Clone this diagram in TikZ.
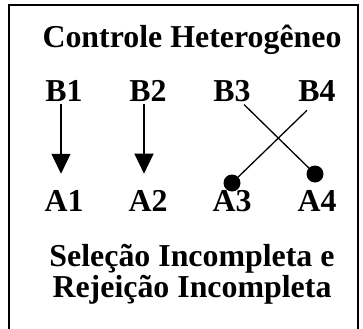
\documentclass[tikz,border=0pt]{standalone}
\usepackage{fontspec}
\setmainfont{Liberation Serif}
\usetikzlibrary{arrows.meta}
\begin{document}
\begin{tikzpicture}[x=1bp,y=-1bp,
  lbl/.style={font=\bfseries\fontsize{32}{36}\selectfont, inner sep=0pt, anchor=base},
  ttl/.style={font=\bfseries\fontsize{32}{36}\selectfont, inner sep=0pt, anchor=base},
  conn/.style={line width=1.3bp},
  arr/.style={conn, -{Triangle[width=19bp,length=20bp]}},
  dotn/.style={circle, fill=black, inner sep=0pt, minimum size=17bp}]
\useasboundingbox (0,0) rectangle (363,329);
\draw[line width=1.5bp] (9,329) -- (9,5) -- (358,5) -- (358,329);
\node[ttl] (title) at (192,47) {Controle Heterogêneo};
\node[lbl] (b1) at (64,101) {B1};
\node[lbl] (b2) at (148,101) {B2};
\node[lbl] (b3) at (232,101) {B3};
\node[lbl] (b4) at (317,101) {B4};
\node[lbl] (a1) at (64,211) {A1};
\node[lbl] (a2) at (148,211) {A2};
\node[lbl] (a3) at (232,211) {A3};
\node[lbl] (a4) at (317,211) {A4};
\node[dotn] (d3) at (232,183) {};
\node[dotn] (d4) at (315,174) {};
\draw[arr] ([xshift=-3bp,yshift=-3bp]b1.south) -- ([xshift=-3bp,yshift=16bp]a1.north);
\draw[arr] ([xshift=-4bp,yshift=-3bp]b2.south) -- ([xshift=-4bp,yshift=16bp]a2.north);
\draw[conn] ([xshift=12bp,yshift=-3bp]b3.south) -- (d4.center);
\draw[conn] ([xshift=-10bp,yshift=-9bp]b4.south) -- (d3.center);
\node[ttl] (s1) at (192,266) {Seleção Incompleta e};
\node[ttl] (s2) at (192,297) {Rejeição Incompleta};
\end{tikzpicture}
\end{document}
